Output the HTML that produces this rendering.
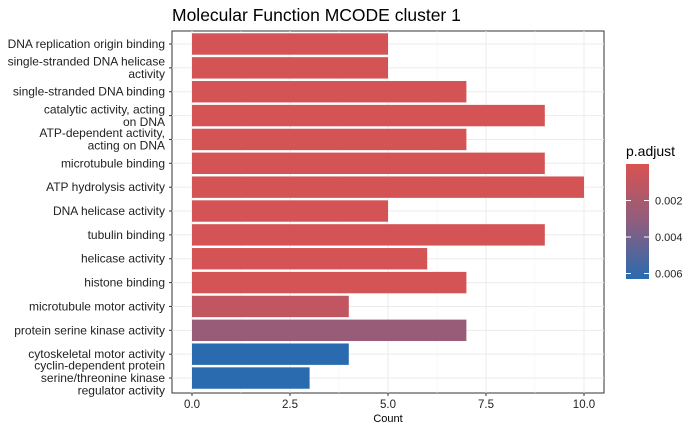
<!DOCTYPE html>
<html><head><meta charset="utf-8"><style>
body{margin:0;background:#fff;font-family:"Liberation Sans",Arial,sans-serif;}
</style></head><body>
<svg id="chart" width="700" height="432" xmlns="http://www.w3.org/2000/svg" font-family="Liberation Sans, Arial, sans-serif">
<defs><linearGradient id="grad" x1="0" y1="0" x2="0" y2="1">
<stop offset="0" stop-color="#D95252"/><stop offset="0.5" stop-color="#8E5E7E"/><stop offset="1" stop-color="#2A6BB0"/></linearGradient></defs>
<text x="172" y="21" font-size="17.5">Molecular Function MCODE cluster 1</text>
<rect x="172" y="31" width="432" height="362" fill="#fff" stroke="#333" stroke-width="1"/>
<g id="grid"></g><g id="bars"></g><g id="ylabels"></g><g id="xaxis"></g>
<text x="388" y="422" font-size="11" text-anchor="middle">Count</text>
<text x="626" y="156" font-size="14">p.adjust</text>
<rect x="626" y="164" width="23" height="115" fill="url(#grad)"/>
<g id="legend"></g>
</svg>
<script>
const categories=["DNA replication origin binding","single-stranded DNA helicase\nactivity","single-stranded DNA binding","catalytic activity, acting\non DNA","ATP-dependent activity,\nacting on DNA","microtubule binding","ATP hydrolysis activity","DNA helicase activity","tubulin binding","helicase activity","histone binding","microtubule motor activity","protein serine kinase activity","cytoskeletal motor activity","cyclin-dependent protein\nserine/threonine kinase\nregulator activity"];
const counts=[5,5,7,9,7,9,10,5,9,6,7,4,7,4,3];
const padj=[0.0002,0.0002,0.0002,0.0002,0.0002,0.0002,0.0002,0.0002,0.0002,0.0002,0.0002,0.001,0.0027,0.0063,0.0063];
const xTicks=[0,2.5,5,7.5,10];
const xTickLabels=["0.0","2.5","5.0","7.5","10.0"];
const legendTicks=[0.002,0.004,0.006];
const legendLabels=["0.002","0.004","0.006"];
const NS="http://www.w3.org/2000/svg";
const xS=v=>192+v*39.2;
const yS=i=>44+i*23.86;
const lS=p=>164+p/0.0063*115;
function col(p){const t=Math.min(1,Math.max(0,p/0.0063));const a=[217,82,82],m=[142,94,126],b=[42,107,176];
let c;if(t<0.5){const u=t/0.5;c=a.map((v,k)=>v+(m[k]-v)*u);}else{const u=(t-0.5)/0.5;c=m.map((v,k)=>v+(b[k]-v)*u);}
return `rgb(${c.map(Math.round).join(',')})`;}
function mk(tag,at,parent){const e=document.createElementNS(NS,tag);for(const k in at)e.setAttribute(k,at[k]);document.getElementById(parent).appendChild(e);return e;}
xTicks.forEach((v,i)=>{
 const g=mk('line',{x1:xS(v),x2:xS(v),y1:31,y2:393,stroke:'#ebebeb','stroke-width':1},'grid');
 
 
 if(i<xTicks.length-1){const m=mk('line',{x1:xS(v+1.25),x2:xS(v+1.25),y1:31,y2:393,stroke:'#f4f4f4','stroke-width':0.6},'grid');
 
 }
 const t=mk('line',{x1:xS(v),x2:xS(v),y1:393,y2:396,stroke:'#333'},'xaxis');
 
 
 const l=mk('text',{x:xS(v),y:408,'font-size':11.5,'text-anchor':'middle',fill:'#222'},'xaxis');
 l.textContent=xTickLabels[i];
 
 
});
categories.forEach((c,i)=>{
 const y=yS(i);
 const g=mk('line',{x1:172,x2:604,y1:y,y2:y,stroke:'#ebebeb'},'grid');
 
 
 const r=mk('rect',{x:xS(0),y:y-10.7,width:xS(counts[i])-xS(0),height:21.4,fill:col(padj[i])},'bars');
 
 
 const t=mk('line',{x1:169,x2:172,y1:y,y2:y,stroke:'#333'},'ylabels');
 
 
 const lines=c.split('\n');const lh=12.5;
 lines.forEach((s,k)=>{
  const tx=mk('text',{x:165,y:y+4-(lines.length-1)*lh/2+k*lh,'font-size':12,'text-anchor':'end',fill:'#222'},'ylabels');
  tx.textContent=s;
  
  
 });
});
legendTicks.forEach((v,i)=>{
 const y=lS(v);
 const a=mk('line',{x1:626,x2:631,y1:y,y2:y,stroke:'#fff'},'legend');
 
 
 const b=mk('line',{x1:644,x2:649,y1:y,y2:y,stroke:'#fff'},'legend');
 
 
 const l=mk('text',{x:655,y:y+4,'font-size':11,fill:'#222'},'legend');
 l.textContent=legendLabels[i];
 
 
});
</script>
</body></html>
